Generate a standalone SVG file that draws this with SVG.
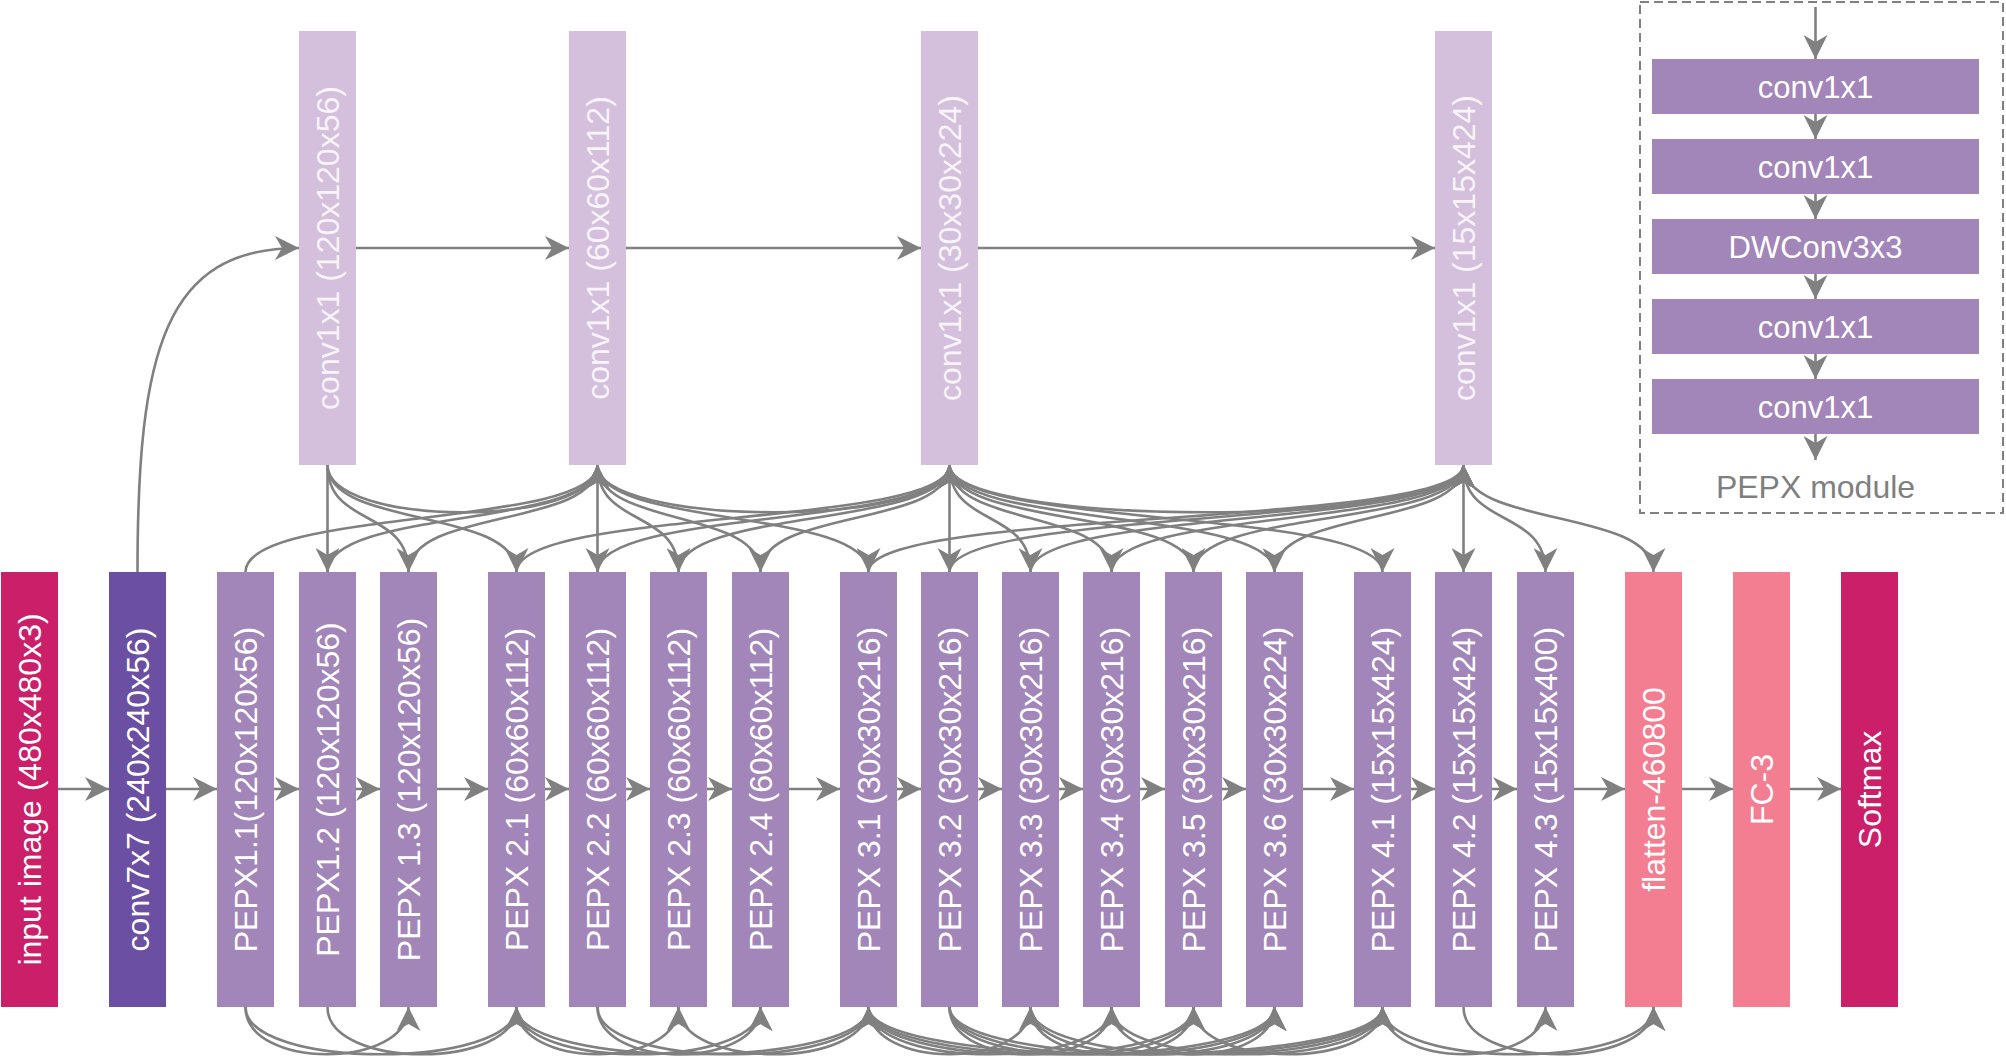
<svg xmlns="http://www.w3.org/2000/svg" width="2006" height="1062" viewBox="0 0 2006 1062">
<style>
.c{fill:none;stroke:#808080;stroke-width:2.6}
.a{marker-end:url(#ah)}
.v{font-family:"Liberation Sans",Arial,sans-serif;font-size:32px;fill:#ffffff;text-anchor:middle}
.tv{fill:#f8f4f9}
.m{font-family:"Liberation Sans",Arial,sans-serif;font-size:31px;fill:#ffffff;text-anchor:middle}
.pep{fill:#a286b9}
.top{fill:#d4bfdc}
.pink{fill:#f47e91}
.mag{fill:#cc1f6a}
</style>
<defs>
<marker id="ah" markerUnits="userSpaceOnUse" viewBox="-24 -12 24 24" refX="0" refY="0" markerWidth="24" markerHeight="24" orient="auto">
<path d="M0,0 L-24,-12 L-17,0 L-24,12 Z" fill="#808080"/>
</marker>
</defs>
<rect width="2006" height="1062" fill="#ffffff"/>
<g id="connectors">
<path class="c a" d="M58 789 L109 789"/>
<path class="c a" d="M166 789 L217 789"/>
<path class="c a" d="M274 789 L299 789"/>
<path class="c a" d="M356 789 L380 789"/>
<path class="c a" d="M437 789 L488 789"/>
<path class="c a" d="M545 789 L569 789"/>
<path class="c a" d="M626 789 L650 789"/>
<path class="c a" d="M707 789 L732 789"/>
<path class="c a" d="M789 789 L840 789"/>
<path class="c a" d="M897 789 L921 789"/>
<path class="c a" d="M978 789 L1002 789"/>
<path class="c a" d="M1059 789 L1083 789"/>
<path class="c a" d="M1140 789 L1165 789"/>
<path class="c a" d="M1222 789 L1246 789"/>
<path class="c a" d="M1303 789 L1354 789"/>
<path class="c a" d="M1411 789 L1435 789"/>
<path class="c a" d="M1492 789 L1517 789"/>
<path class="c a" d="M1574 789 L1625 789"/>
<path class="c a" d="M1682 789 L1733 789"/>
<path class="c a" d="M1790 789 L1841 789"/>
<path class="c a" d="M137.5 572 C137.5 350 165 248 299 248"/>
<path class="c a" d="M356 248 L569 248"/>
<path class="c a" d="M626 248 L921 248"/>
<path class="c a" d="M978 248 L1435 248"/>
<path class="c a" d="M327.5 465 L327.5 572"/>
<path class="c a" d="M327.5 465 C327.5 528 408.5 508 408.5 572"/>
<path class="c a" d="M327.5 465 C327.5 528 516.5 508 516.5 572"/>
<path class="c a" d="M327.5 465 C327.5 528 597.5 528 597.5 465"/>
<path class="c a" d="M245.5 572 C245.5 508 597.5 528 597.5 465"/>
<path class="c a" d="M327.5 572 C327.5 508 597.5 528 597.5 465"/>
<path class="c a" d="M408.5 572 C408.5 508 597.5 528 597.5 465"/>
<path class="c a" d="M597.5 465 L597.5 572"/>
<path class="c a" d="M597.5 465 C597.5 528 678.5 508 678.5 572"/>
<path class="c a" d="M597.5 465 C597.5 528 760.5 508 760.5 572"/>
<path class="c a" d="M597.5 465 C597.5 528 868.5 508 868.5 572"/>
<path class="c a" d="M597.5 465 C597.5 528 949.5 528 949.5 465"/>
<path class="c a" d="M516.5 572 C516.5 508 949.5 528 949.5 465"/>
<path class="c a" d="M597.5 572 C597.5 508 949.5 528 949.5 465"/>
<path class="c a" d="M678.5 572 C678.5 508 949.5 528 949.5 465"/>
<path class="c a" d="M760.5 572 C760.5 508 949.5 528 949.5 465"/>
<path class="c a" d="M949.5 465 L949.5 572"/>
<path class="c a" d="M949.5 465 C949.5 528 1030.5 508 1030.5 572"/>
<path class="c a" d="M949.5 465 C949.5 528 1111.5 508 1111.5 572"/>
<path class="c a" d="M949.5 465 C949.5 528 1193.5 508 1193.5 572"/>
<path class="c a" d="M949.5 465 C949.5 528 1274.5 508 1274.5 572"/>
<path class="c a" d="M949.5 465 C949.5 528 1382.5 508 1382.5 572"/>
<path class="c a" d="M949.5 465 C949.5 528 1463.5 528 1463.5 465"/>
<path class="c a" d="M868.5 572 C868.5 508 1463.5 528 1463.5 465"/>
<path class="c a" d="M949.5 572 C949.5 508 1463.5 528 1463.5 465"/>
<path class="c a" d="M1030.5 572 C1030.5 508 1463.5 528 1463.5 465"/>
<path class="c a" d="M1111.5 572 C1111.5 508 1463.5 528 1463.5 465"/>
<path class="c a" d="M1193.5 572 C1193.5 508 1463.5 528 1463.5 465"/>
<path class="c a" d="M1274.5 572 C1274.5 508 1463.5 528 1463.5 465"/>
<path class="c a" d="M1463.5 465 L1463.5 572"/>
<path class="c a" d="M1463.5 465 C1463.5 528 1545.5 508 1545.5 572"/>
<path class="c a" d="M1463.5 465 C1463.5 528 1653.5 508 1653.5 572"/>
<path class="c a" d="M245.5 1007 C245.5 1070 408.5 1070 408.5 1007"/>
<path class="c a" d="M245.5 1007 C245.5 1070 516.5 1070 516.5 1007"/>
<path class="c a" d="M327.5 1007 C327.5 1070 516.5 1070 516.5 1007"/>
<path class="c a" d="M516.5 1007 C516.5 1070 678.5 1070 678.5 1007"/>
<path class="c a" d="M516.5 1007 C516.5 1070 760.5 1070 760.5 1007"/>
<path class="c a" d="M516.5 1007 C516.5 1070 868.5 1070 868.5 1007"/>
<path class="c a" d="M597.5 1007 C597.5 1070 760.5 1070 760.5 1007"/>
<path class="c a" d="M597.5 1007 C597.5 1070 868.5 1070 868.5 1007"/>
<path class="c a" d="M678.5 1007 C678.5 1070 868.5 1070 868.5 1007"/>
<path class="c a" d="M868.5 1007 C868.5 1070 1030.5 1070 1030.5 1007"/>
<path class="c a" d="M868.5 1007 C868.5 1070 1111.5 1070 1111.5 1007"/>
<path class="c a" d="M868.5 1007 C868.5 1070 1193.5 1070 1193.5 1007"/>
<path class="c a" d="M868.5 1007 C868.5 1070 1274.5 1070 1274.5 1007"/>
<path class="c a" d="M868.5 1007 C868.5 1070 1382.5 1070 1382.5 1007"/>
<path class="c a" d="M949.5 1007 C949.5 1070 1111.5 1070 1111.5 1007"/>
<path class="c a" d="M949.5 1007 C949.5 1070 1193.5 1070 1193.5 1007"/>
<path class="c a" d="M949.5 1007 C949.5 1070 1274.5 1070 1274.5 1007"/>
<path class="c a" d="M949.5 1007 C949.5 1070 1382.5 1070 1382.5 1007"/>
<path class="c a" d="M1030.5 1007 C1030.5 1070 1193.5 1070 1193.5 1007"/>
<path class="c a" d="M1030.5 1007 C1030.5 1070 1274.5 1070 1274.5 1007"/>
<path class="c a" d="M1030.5 1007 C1030.5 1070 1382.5 1070 1382.5 1007"/>
<path class="c a" d="M1111.5 1007 C1111.5 1070 1274.5 1070 1274.5 1007"/>
<path class="c a" d="M1111.5 1007 C1111.5 1070 1382.5 1070 1382.5 1007"/>
<path class="c a" d="M1193.5 1007 C1193.5 1070 1382.5 1070 1382.5 1007"/>
<path class="c a" d="M1382.5 1007 C1382.5 1070 1545.5 1070 1545.5 1007"/>
<path class="c a" d="M1382.5 1007 C1382.5 1070 1653.5 1070 1653.5 1007"/>
<path class="c a" d="M1463.5 1007 C1463.5 1070 1653.5 1070 1653.5 1007"/>
<path class="c a" d="M1815.5 7 L1815.5 59"/>
<path class="c a" d="M1815.5 114 L1815.5 139"/>
<path class="c a" d="M1815.5 194 L1815.5 219"/>
<path class="c a" d="M1815.5 274 L1815.5 299"/>
<path class="c a" d="M1815.5 354 L1815.5 379"/>
<path class="c a" d="M1815.5 434 L1815.5 460"/>
</g>
<g id="input"><rect x="1" y="572" width="57" height="435" class="mag"/><text class="v" transform="translate(41,789.5) rotate(-90)">input image (480x480x3)</text></g>
<g id="conv7x7"><rect x="109" y="572" width="57" height="435" fill="#6a4fa3"/><text class="v" transform="translate(149,789.5) rotate(-90)">conv7x7 (240x240x56)</text></g>
<g id="pepx1_1"><rect x="217" y="572" width="57" height="435" class="pep"/><text class="v" transform="translate(257,789.5) rotate(-90)">PEPX1.1(120x120x56)</text></g>
<g id="pepx1_2"><rect x="299" y="572" width="57" height="435" class="pep"/><text class="v" transform="translate(339,789.5) rotate(-90)">PEPX1.2 (120x120x56)</text></g>
<g id="pepx1_3"><rect x="380" y="572" width="57" height="435" class="pep"/><text class="v" transform="translate(420,789.5) rotate(-90)">PEPX 1.3 (120x120x56)</text></g>
<g id="pepx2_1"><rect x="488" y="572" width="57" height="435" class="pep"/><text class="v" transform="translate(528,789.5) rotate(-90)">PEPX 2.1 (60x60x112)</text></g>
<g id="pepx2_2"><rect x="569" y="572" width="57" height="435" class="pep"/><text class="v" transform="translate(609,789.5) rotate(-90)">PEPX 2.2 (60x60x112)</text></g>
<g id="pepx2_3"><rect x="650" y="572" width="57" height="435" class="pep"/><text class="v" transform="translate(690,789.5) rotate(-90)">PEPX 2.3 (60x60x112)</text></g>
<g id="pepx2_4"><rect x="732" y="572" width="57" height="435" class="pep"/><text class="v" transform="translate(772,789.5) rotate(-90)">PEPX 2.4 (60x60x112)</text></g>
<g id="pepx3_1"><rect x="840" y="572" width="57" height="435" class="pep"/><text class="v" transform="translate(880,789.5) rotate(-90)">PEPX 3.1 (30x30x216)</text></g>
<g id="pepx3_2"><rect x="921" y="572" width="57" height="435" class="pep"/><text class="v" transform="translate(961,789.5) rotate(-90)">PEPX 3.2 (30x30x216)</text></g>
<g id="pepx3_3"><rect x="1002" y="572" width="57" height="435" class="pep"/><text class="v" transform="translate(1042,789.5) rotate(-90)">PEPX 3.3 (30x30x216)</text></g>
<g id="pepx3_4"><rect x="1083" y="572" width="57" height="435" class="pep"/><text class="v" transform="translate(1123,789.5) rotate(-90)">PEPX 3.4 (30x30x216)</text></g>
<g id="pepx3_5"><rect x="1165" y="572" width="57" height="435" class="pep"/><text class="v" transform="translate(1205,789.5) rotate(-90)">PEPX 3.5 (30x30x216)</text></g>
<g id="pepx3_6"><rect x="1246" y="572" width="57" height="435" class="pep"/><text class="v" transform="translate(1286,789.5) rotate(-90)">PEPX 3.6 (30x30x224)</text></g>
<g id="pepx4_1"><rect x="1354" y="572" width="57" height="435" class="pep"/><text class="v" transform="translate(1394,789.5) rotate(-90)">PEPX 4.1 (15x15x424)</text></g>
<g id="pepx4_2"><rect x="1435" y="572" width="57" height="435" class="pep"/><text class="v" transform="translate(1475,789.5) rotate(-90)">PEPX 4.2 (15x15x424)</text></g>
<g id="pepx4_3"><rect x="1517" y="572" width="57" height="435" class="pep"/><text class="v" transform="translate(1557,789.5) rotate(-90)">PEPX 4.3 (15x15x400)</text></g>
<g id="flatten"><rect x="1625" y="572" width="57" height="435" class="pink"/><text class="v" transform="translate(1665,789.5) rotate(-90)">flatten-460800</text></g>
<g id="fc3"><rect x="1733" y="572" width="57" height="435" class="pink"/><text class="v" transform="translate(1773,789.5) rotate(-90)">FC-3</text></g>
<g id="softmax"><rect x="1841" y="572" width="57" height="435" class="mag"/><text class="v" transform="translate(1881,789.5) rotate(-90)">Softmax</text></g>
<g id="conv1x1_1"><rect x="299" y="31" width="57" height="434" class="top"/><text class="v tv" transform="translate(339,248) rotate(-90)">conv1x1 (120x120x56)</text></g>
<g id="conv1x1_2"><rect x="569" y="31" width="57" height="434" class="top"/><text class="v tv" transform="translate(609,248) rotate(-90)">conv1x1 (60x60x112)</text></g>
<g id="conv1x1_3"><rect x="921" y="31" width="57" height="434" class="top"/><text class="v tv" transform="translate(961,248) rotate(-90)">conv1x1 (30x30x224)</text></g>
<g id="conv1x1_4"><rect x="1435" y="31" width="57" height="434" class="top"/><text class="v tv" transform="translate(1475,248) rotate(-90)">conv1x1 (15x15x424)</text></g>
<g id="pepx_module">
<rect x="1640" y="2" width="363" height="511" fill="none" stroke="#808080" stroke-width="2" stroke-dasharray="9 5"/>
<rect x="1652" y="59" width="327" height="55" class="pep"/><text class="m" x="1815.5" y="97.5">conv1x1</text>
<rect x="1652" y="139" width="327" height="55" class="pep"/><text class="m" x="1815.5" y="177.5">conv1x1</text>
<rect x="1652" y="219" width="327" height="55" class="pep"/><text class="m" x="1815.5" y="257.5">DWConv3x3</text>
<rect x="1652" y="299" width="327" height="55" class="pep"/><text class="m" x="1815.5" y="337.5">conv1x1</text>
<rect x="1652" y="379" width="327" height="55" class="pep"/><text class="m" x="1815.5" y="417.5">conv1x1</text>
<text x="1815.5" y="498" font-family="Liberation Sans, Arial, sans-serif" font-size="32" fill="#7f7f7f" text-anchor="middle">PEPX module</text>
</g>
</svg>
